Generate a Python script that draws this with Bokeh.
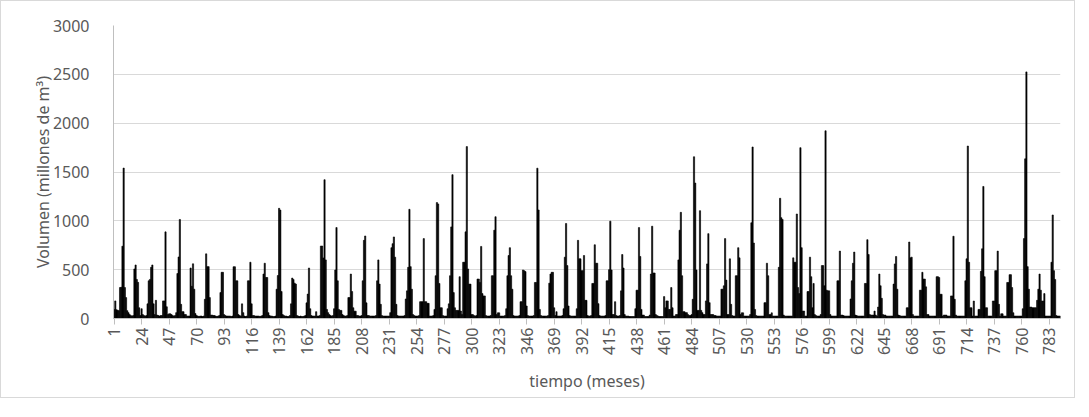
from bokeh.plotting import figure
from bokeh.models import Range1d, FixedTicker
from bokeh.embed import file_html
from bokeh.resources import INLINE

# Monthly volumes (millones de m3), one row per 12 months
bloque_1 = [
    [93, 180, 90, 85, 80, 317, 320, 740, 1540, 317, 214, 80],
    [60, 40, 30, 25, 30, 507, 548, 400, 370, 110, 30, 100],
    [40, 30, 25, 30, 150, 386, 400, 524, 548, 150, 40, 186],
    [35, 30, 25, 30, 30, 180, 180, 887, 120, 40, 48, 48],
    [40, 30, 25, 30, 60, 460, 630, 1014, 145, 70, 70, 40],
    [40, 25, 25, 25, 517, 330, 560, 300, 50, 30, 25, 20],
    [25, 25, 20, 25, 197, 662, 531, 531, 214, 35, 35, 30],
    [30, 25, 20, 25, 30, 265, 473, 473, 40, 30, 25, 25],
    [25, 25, 20, 25, 530, 530, 386, 386, 40, 30, 25, 150],
    [60, 25, 20, 25, 386, 386, 576, 150, 30, 30, 25, 25],
    [25, 25, 20, 25, 30, 455, 566, 420, 420, 60, 30, 25],
    [25, 20, 20, 25, 300, 440, 1128, 1110, 276, 40, 30, 25],
    [25, 20, 20, 30, 150, 414, 400, 362, 352, 30, 25, 20],
    [25, 20, 20, 25, 30, 160, 250, 517, 100, 30, 25, 25],
    [25, 70, 25, 25, 30, 742, 742, 620, 1421, 600, 93, 60],
    [40, 30, 25, 30, 100, 497, 931, 386, 93, 83, 83, 40],
    [30, 25, 25, 30, 214, 214, 455, 276, 110, 75, 75, 30],
]
bloque_2 = [
    [30, 25, 25, 30, 386, 800, 845, 160, 30, 30, 25, 25],
    [25, 25, 25, 30, 386, 600, 352, 145, 30, 25, 25, 25],
    [25, 25, 25, 60, 725, 766, 835, 628, 145, 30, 25, 25],
    [25, 25, 25, 30, 200, 283, 524, 1118, 531, 300, 40, 30],
    [25, 25, 25, 30, 172, 172, 172, 818, 172, 172, 155, 155],
    [25, 25, 25, 30, 93, 438, 1187, 1173, 359, 110, 110, 30],
    [25, 25, 25, 100, 150, 438, 938, 1473, 265, 110, 83, 83],
    [83, 428, 76, 40, 576, 576, 887, 1760, 507, 352, 352, 40],
    [40, 30, 25, 30, 404, 404, 369, 738, 255, 231, 231, 30],
    [25, 25, 25, 30, 438, 438, 904, 1042, 40, 58, 58, 25],
    [25, 25, 25, 30, 100, 438, 645, 725, 438, 300, 30, 25],
    [25, 25, 25, 30, 172, 172, 497, 490, 480, 128, 30, 25],
    [25, 25, 25, 30, 369, 369, 1539, 1111, 93, 30, 25, 25],
    [25, 25, 25, 30, 362, 455, 473, 473, 110, 30, 70, 25],
    [25, 25, 25, 30, 100, 628, 973, 542, 128, 30, 25, 25],
    [25, 25, 25, 100, 800, 611, 611, 490, 490, 645, 186, 186],
    [30, 25, 25, 30, 359, 359, 755, 566, 566, 152, 30, 25],
]
bloque_3 = [
    [25, 25, 25, 30, 386, 386, 500, 997, 497, 40, 40, 172],
    [30, 25, 25, 30, 283, 655, 517, 40, 25, 25, 25, 20],
    [20, 20, 20, 20, 100, 290, 290, 931, 635, 93, 35, 35],
    [20, 20, 20, 20, 35, 455, 945, 466, 466, 40, 30, 25],
    [20, 20, 20, 20, 224, 110, 180, 180, 93, 93, 317, 110],
    [25, 25, 40, 40, 600, 904, 1087, 438, 70, 70, 60, 60],
    [40, 30, 30, 40, 197, 1656, 1387, 497, 83, 83, 1104, 83],
    [60, 40, 40, 180, 559, 869, 162, 40, 40, 40, 30, 30],
    [25, 25, 25, 25, 300, 300, 335, 818, 393, 40, 40, 611],
    [145, 30, 25, 25, 438, 438, 725, 621, 40, 58, 58, 25],
    [25, 25, 25, 25, 40, 980, 1756, 773, 93, 30, 25, 25],
    [25, 25, 25, 25, 162, 162, 566, 438, 40, 40, 58, 25],
    [25, 25, 25, 25, 524, 1231, 1032, 1014, 35, 25, 25, 25],
    [25, 25, 25, 25, 621, 576, 576, 1070, 317, 255, 1749, 725],
    [76, 76, 25, 25, 276, 276, 628, 428, 110, 359, 40, 30],
    [25, 25, 25, 40, 542, 542, 335, 1922, 290, 283, 283, 40],
]
bloque_4 = [
    [25, 25, 25, 25, 25, 386, 386, 690, 35, 35, 30, 25],
    [25, 25, 25, 25, 200, 386, 566, 680, 35, 30, 25, 25],
    [25, 25, 25, 25, 359, 359, 807, 655, 40, 35, 35, 35],
    [76, 35, 25, 117, 455, 335, 207, 40, 35, 35, 25, 25],
    [25, 25, 25, 25, 352, 559, 635, 300, 35, 30, 25, 25],
    [25, 25, 25, 110, 110, 783, 621, 628, 40, 25, 25, 25],
    [25, 25, 290, 290, 473, 404, 404, 324, 40, 40, 25, 25],
    [25, 25, 25, 25, 428, 428, 420, 248, 248, 25, 35, 35],
    [35, 25, 25, 25, 231, 231, 842, 197, 35, 25, 25, 25],
    [25, 25, 25, 25, 386, 611, 1766, 576, 110, 110, 25, 179],
    [25, 25, 25, 93, 93, 483, 714, 1352, 428, 110, 110, 25],
    [25, 25, 25, 179, 179, 490, 490, 690, 145, 25, 48, 48],
    [25, 25, 25, 369, 369, 449, 449, 317, 59, 25, 25, 25],
    [25, 25, 25, 25, 100, 818, 1635, 2525, 531, 300, 117, 117],
    [110, 110, 110, 110, 186, 300, 455, 290, 179, 179, 255, 25],
    [25, 25, 25, 25, 576, 1060, 490, 400, 30, 25, 25, 25],
]

volumen = [v for bloque in (bloque_1, bloque_2, bloque_3, bloque_4) for fila in bloque for v in fila]
meses = list(range(1, len(volumen) + 1))
etiquetas_x = list(range(1, len(volumen) + 1, 23))
ticks_y = [0, 500, 1000, 1500, 2000, 2500, 3000]

FONT = "Noto Sans"
GRAY = "#595959"

p = figure(width=1075, height=398, output_backend="svg", toolbar_location=None,
           x_range=Range1d(0.5, len(volumen) + 0.5), y_range=Range1d(0, 3000),
           min_border_left=112, min_border_right=16, min_border_top=24, min_border_bottom=81)
p.styles = {"border": "1px solid #d9d9d9"}
p.outline_line_color = None

p.vbar(x=meses, top=volumen, width=1.0, fill_color="black", line_color="black", line_width=0.6)

p.xgrid.grid_line_color = None
p.ygrid.grid_line_color = "#d9d9d9"
p.ygrid.ticker = FixedTicker(ticks=ticks_y)

p.yaxis.ticker = FixedTicker(ticks=ticks_y)
p.yaxis.axis_line_color = "#bfbfbf"
p.yaxis.major_tick_line_color = None
p.yaxis.minor_tick_line_color = None
p.yaxis.major_label_standoff = 18
p.yaxis.major_label_text_font = FONT
p.yaxis.major_label_text_font_size = "16px"
p.yaxis.major_label_text_color = GRAY
p.yaxis.axis_label = "Volumen (millones de m³)"
p.yaxis.axis_label_text_font = FONT
p.yaxis.axis_label_text_font_size = "16px"
p.yaxis.axis_label_text_font_style = "normal"
p.yaxis.axis_label_text_color = GRAY
p.yaxis.axis_label_standoff = -4

p.xaxis.ticker = FixedTicker(ticks=etiquetas_x)
p.xaxis.axis_line_color = "#bfbfbf"
p.xaxis.major_tick_line_color = "#bfbfbf"
p.xaxis.major_tick_in = 0
p.xaxis.major_tick_out = 6
p.xaxis.minor_tick_line_color = None
p.xaxis.major_label_orientation = 1.5707963
p.xaxis.major_label_standoff = 3
p.xaxis.major_label_text_font = FONT
p.xaxis.major_label_text_font_size = "16px"
p.xaxis.major_label_text_color = GRAY
p.xaxis.axis_label = "tiempo (meses)"
p.xaxis.axis_label_text_font = FONT
p.xaxis.axis_label_text_font_size = "16px"
p.xaxis.axis_label_text_font_style = "normal"
p.xaxis.axis_label_text_color = GRAY
p.xaxis.axis_label_standoff = 12

open("out.html", "w").write(file_html(p, INLINE))
